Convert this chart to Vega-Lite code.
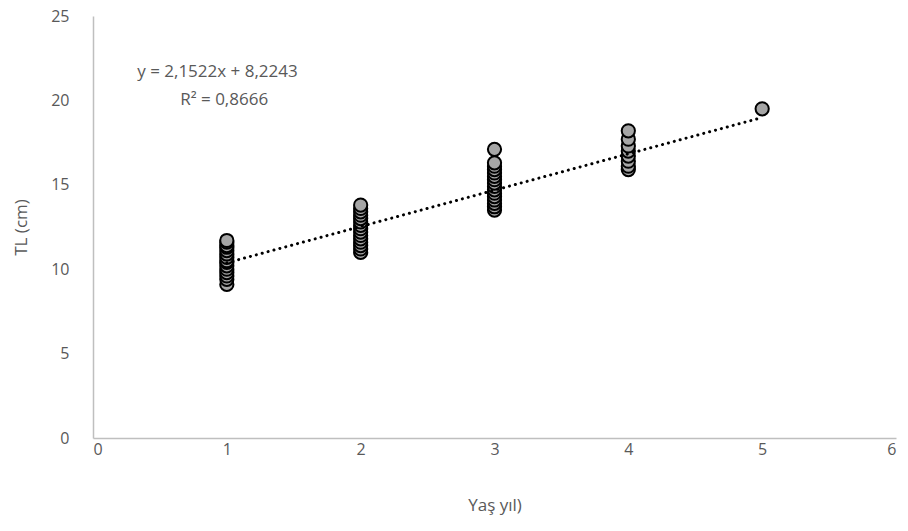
{
  "$schema": "https://vega.github.io/schema/vega-lite/v6.json",
  "autosize": "none",
  "width": 803,
  "height": 422,
  "padding": {"left": 93, "top": 16, "right": 12, "bottom": 93},
  "background": "white",
  "config": {"view": {"stroke": null}, "font": "Open Sans"},
  "datasets": {
    "pts": [
      {"age": 1, "tl": 9.1}, {"age": 1, "tl": 9.4}, {"age": 1, "tl": 9.6}, {"age": 1, "tl": 9.8}, {"age": 1, "tl": 10.0},
      {"age": 1, "tl": 10.2}, {"age": 1, "tl": 10.4}, {"age": 1, "tl": 10.5}, {"age": 1, "tl": 10.7}, {"age": 1, "tl": 10.9},
      {"age": 1, "tl": 11.1}, {"age": 1, "tl": 11.3}, {"age": 1, "tl": 11.4}, {"age": 1, "tl": 11.6}, {"age": 1, "tl": 11.7},
      {"age": 2, "tl": 11.0}, {"age": 2, "tl": 11.2}, {"age": 2, "tl": 11.4}, {"age": 2, "tl": 11.6}, {"age": 2, "tl": 11.8},
      {"age": 2, "tl": 12.0}, {"age": 2, "tl": 12.2}, {"age": 2, "tl": 12.4}, {"age": 2, "tl": 12.6}, {"age": 2, "tl": 12.8},
      {"age": 2, "tl": 13.0}, {"age": 2, "tl": 13.2}, {"age": 2, "tl": 13.4}, {"age": 2, "tl": 13.6}, {"age": 2, "tl": 13.8},
      {"age": 3, "tl": 13.5}, {"age": 3, "tl": 13.7}, {"age": 3, "tl": 13.9}, {"age": 3, "tl": 14.1}, {"age": 3, "tl": 14.3},
      {"age": 3, "tl": 14.5}, {"age": 3, "tl": 14.7}, {"age": 3, "tl": 14.9}, {"age": 3, "tl": 15.1}, {"age": 3, "tl": 15.3},
      {"age": 3, "tl": 15.5}, {"age": 3, "tl": 15.7}, {"age": 3, "tl": 15.9}, {"age": 3, "tl": 16.1}, {"age": 3, "tl": 16.3},
      {"age": 3, "tl": 17.1},
      {"age": 4, "tl": 15.9}, {"age": 4, "tl": 16.1}, {"age": 4, "tl": 16.4}, {"age": 4, "tl": 16.7}, {"age": 4, "tl": 17.0},
      {"age": 4, "tl": 17.3}, {"age": 4, "tl": 17.7}, {"age": 4, "tl": 18.2},
      {"age": 5, "tl": 19.5}
    ],
    "trend": [
      {"age": 1, "tl": 10.3765},
      {"age": 5, "tl": 18.9853}
    ]
  },
  "layer": [
    {
      "data": {"name": "pts"},
      "mark": {"type": "point", "shape": "circle", "filled": true, "fill": "#a6a6a6", "stroke": "#000000", "strokeWidth": 2, "size": 175, "opacity": 1},
      "encoding": {
        "x": {
          "field": "age", "type": "quantitative",
          "scale": {"domain": [0, 6], "nice": false},
          "axis": {
            "title": "Yaş yıl)", "values": [0, 1, 2, 3, 4, 5, 6], "format": "d",
            "grid": false, "ticks": false, "domainColor": "#bfbfbf", "domainWidth": 1.5,
            "labelFontSize": 16, "labelColor": "#595959", "labelPadding": 3,
            "titleFontSize": 17, "titleColor": "#595959", "titleFontWeight": "normal", "titlePadding": 40
          }
        },
        "y": {
          "field": "tl", "type": "quantitative",
          "scale": {"domain": [0, 25], "nice": false, "zero": true},
          "axis": {
            "title": "TL (cm)", "values": [0, 5, 10, 15, 20, 25],
            "grid": false, "ticks": false, "domainColor": "#bfbfbf", "domainWidth": 1.5,
            "labelFontSize": 16, "labelColor": "#595959", "labelPadding": 24,
            "titleFontSize": 17, "titleColor": "#595959", "titleFontWeight": "normal", "titlePadding": 20
          }
        }
      }
    },
    {
      "data": {"name": "trend"},
      "mark": {"type": "line", "color": "#000000", "strokeWidth": 3, "strokeDash": [0.1, 6], "strokeCap": "round"},
      "encoding": {
        "x": {"field": "age", "type": "quantitative"},
        "y": {"field": "tl", "type": "quantitative"}
      }
    },
    {
      "data": {"values": [{}]},
      "mark": {"type": "text", "fontSize": 17, "color": "#595959", "align": "center", "baseline": "middle"},
      "encoding": {
        "x": {"datum": 0.93, "type": "quantitative"},
        "y": {"datum": 21.7, "type": "quantitative"},
        "text": {"value": "y = 2,1522x + 8,2243"}
      }
    },
    {
      "data": {"values": [{}]},
      "mark": {"type": "text", "fontSize": 17, "color": "#595959", "align": "center", "baseline": "middle"},
      "encoding": {
        "x": {"datum": 0.98, "type": "quantitative"},
        "y": {"datum": 20.0, "type": "quantitative"},
        "text": {"value": "R² = 0,8666"}
      }
    }
  ]
}
